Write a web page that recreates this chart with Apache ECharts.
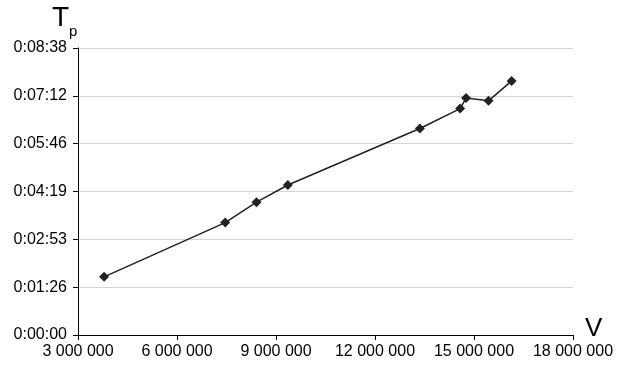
<!DOCTYPE html>
<html>
<head>
<meta charset="utf-8">
<script src="https://cdn.jsdelivr.net/npm/echarts@6/dist/echarts.min.js"></script>
<style>html,body{margin:0;padding:0;background:#fff}#c{width:624px;height:379px}</style>
</head>
<body>
<div id="c"></div>
<script>
// Volume V
const volumes = [3790000, 7460000, 8410000, 9360000, 13360000, 14580000, 14760000, 15440000, 16140000];
// Time Tp in seconds
const timesSec = [105, 203, 240, 271, 373, 409, 428, 423, 459];
const xTicks = [3000000, 6000000, 9000000, 12000000, 15000000, 18000000];
const yTickLabels = ['0:00:00', '0:01:26', '0:02:53', '0:04:19', '0:05:46', '0:07:12', '0:08:38'];
const yStep = 86.4;

const chart = echarts.init(document.getElementById('c'), null, {renderer: 'canvas'});
const font = 'Liberation Sans, Arial, sans-serif';
chart.setOption({
  animation: false,
  grid: {left: 78, right: 51, top: 48, bottom: 44},
  xAxis: {
    type: 'value', min: xTicks[0], max: xTicks[xTicks.length - 1], interval: 3000000,
    axisLine: {lineStyle: {color: '#000', width: 1}},
    axisTick: {show: true, length: 5, lineStyle: {color: '#000'}},
    splitLine: {show: false},
    axisLabel: {color: '#000', fontFamily: font, fontSize: 16, margin: 9,
      formatter: v => String(Math.round(v)).replace(/\B(?=(\d{3})+(?!\d))/g, ' ')}
  },
  yAxis: {
    type: 'value', min: 0, max: yStep * 6, interval: yStep,
    axisLine: {show: true, lineStyle: {color: '#000', width: 1}},
    axisTick: {show: true, length: 5, lineStyle: {color: '#000'}},
    splitLine: {show: true, lineStyle: {color: '#d4d4d4', width: 1}},
    axisLabel: {color: '#000', fontFamily: font, fontSize: 16, margin: 11,
      formatter: v => yTickLabels[Math.round(v / yStep)] || ''}
  },
  graphic: [
    {type: 'text', left: 52, top: 4, style: {text: 'T', font: '28px ' + font, fill: '#000'}},
    {type: 'text', left: 69, top: 24, style: {text: 'p', font: '15px ' + font, fill: '#000'}},
    {type: 'text', left: 585, top: 316, style: {text: 'V', font: '26px ' + font, fill: '#000'}}
  ],
  series: [{
    type: 'line',
    data: volumes.map((v, i) => [v, timesSec[i]]),
    symbol: 'diamond', symbolSize: 10,
    itemStyle: {color: '#222'},
    lineStyle: {color: '#222', width: 1.5}
  }]
});
</script>
</body>
</html>
